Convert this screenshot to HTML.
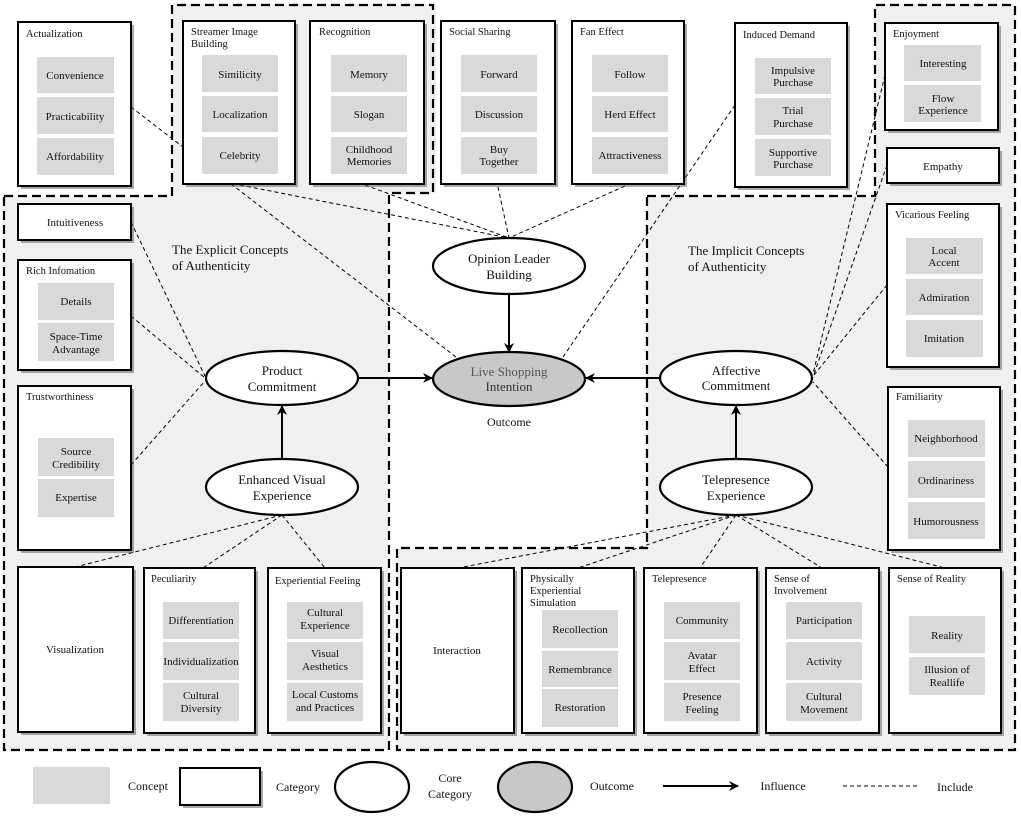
<!DOCTYPE html>
<html><head><meta charset="utf-8"><style>
html,body{margin:0;padding:0;background:#fff}
svg{display:block}
text{font-family:"Liberation Serif",serif;fill:#111}
.c{fill:#d9d9d9}
.b{fill:#fff;stroke:#000;stroke-width:2}
.s{fill:#555;opacity:.5}
.d{stroke:#000;stroke-width:1;stroke-dasharray:4,3;fill:none}
.D{stroke:#000;stroke-width:2.2;stroke-dasharray:9,5;fill:none}
.t{font-size:10.5px}
.m{font-size:11px;text-anchor:middle}
.e{font-size:13px;text-anchor:middle}
</style></head><body>
<svg width="1021" height="819" viewBox="0 0 1021 819" xmlns="http://www.w3.org/2000/svg">
<defs>
<marker id="a" markerWidth="10" markerHeight="10" refX="9" refY="5" orient="auto" markerUnits="userSpaceOnUse"><path d="M0,0 L10,5 L0,10 L3,5z" fill="#000"/></marker>
</defs>
<!-- gray regions -->
<path d="M3,196 H172 V4 H436 V193 H389 V750 H3Z" fill="#f0f0f0"/>
<path d="M647,196 H875 V4 H1015 V750 H397 V548 H647Z" fill="#f0f0f0"/>
<!-- dashed region borders -->
<path class="D" d="M4,196 H172 V5 H433 V193 H389 V750 H4Z"/>
<path class="D" d="M647,196 H875 V5 H1015 V750 H397 V548 H647Z"/>

<!-- dashed connectors -->
<g class="d">
<line x1="131" y1="107" x2="456" y2="357"/>
<line x1="240" y1="185" x2="509" y2="238"/>
<line x1="365" y1="185" x2="509" y2="238"/>
<line x1="498" y1="187" x2="509" y2="238"/>
<line x1="625" y1="186" x2="509" y2="238"/>
<line x1="735" y1="105" x2="563" y2="357"/>
<line x1="885" y1="75" x2="813" y2="374"/>
<line x1="887" y1="165" x2="814" y2="374"/>
<line x1="887" y1="285" x2="814" y2="375"/>
<line x1="888" y1="467" x2="813" y2="382"/>
<line x1="131" y1="222" x2="205" y2="376"/>
<line x1="131" y1="316" x2="205" y2="378"/>
<line x1="131" y1="465" x2="205" y2="381"/>
<line x1="282" y1="515" x2="75" y2="567"/>
<line x1="282" y1="515" x2="203" y2="568"/>
<line x1="282" y1="515" x2="325" y2="568"/>
<line x1="736" y1="515" x2="458" y2="568"/>
<line x1="736" y1="515" x2="578" y2="568"/>
<line x1="736" y1="515" x2="700" y2="568"/>
<line x1="736" y1="515" x2="822" y2="568"/>
<line x1="736" y1="515" x2="945" y2="568"/>
</g>

<!-- category boxes with shadows -->
<g>
<rect class="s" x="21" y="25" width="113" height="164"/><rect class="b" x="18" y="22" width="113" height="164"/>
<rect class="s" x="186" y="24" width="112" height="163"/><rect class="b" x="183" y="21" width="112" height="163"/>
<rect class="s" x="313" y="24" width="114" height="163"/><rect class="b" x="310" y="21" width="114" height="163"/>
<rect class="s" x="444" y="24" width="114" height="163"/><rect class="b" x="441" y="21" width="114" height="163"/>
<rect class="s" x="575" y="24" width="112" height="163"/><rect class="b" x="572" y="21" width="112" height="163"/>
<rect class="s" x="738" y="26" width="112" height="164"/><rect class="b" x="735" y="23" width="112" height="164"/>
<rect class="s" x="888" y="26" width="113" height="107"/><rect class="b" x="885" y="23" width="113" height="107"/>
<rect class="s" x="890" y="151" width="112" height="35"/><rect class="b" x="887" y="148" width="112" height="35"/>
<rect class="s" x="890" y="207" width="112" height="163"/><rect class="b" x="887" y="204" width="112" height="163"/>
<rect class="s" x="891" y="390" width="112" height="163"/><rect class="b" x="888" y="387" width="112" height="163"/>
<rect class="s" x="21" y="207" width="113" height="36"/><rect class="b" x="18" y="204" width="113" height="36"/>
<rect class="s" x="21" y="263" width="113" height="110"/><rect class="b" x="18" y="260" width="113" height="110"/>
<rect class="s" x="21" y="389" width="113" height="164"/><rect class="b" x="18" y="386" width="113" height="164"/>
<rect class="s" x="21" y="570" width="115" height="165"/><rect class="b" x="18" y="567" width="115" height="165"/>
<rect class="s" x="147" y="571" width="111" height="165"/><rect class="b" x="144" y="568" width="111" height="165"/>
<rect class="s" x="271" y="571" width="113" height="165"/><rect class="b" x="268" y="568" width="113" height="165"/>
<rect class="s" x="404" y="571" width="113" height="165"/><rect class="b" x="401" y="568" width="113" height="165"/>
<rect class="s" x="525" y="571" width="112" height="165"/><rect class="b" x="522" y="568" width="112" height="165"/>
<rect class="s" x="647" y="571" width="113" height="165"/><rect class="b" x="644" y="568" width="113" height="165"/>
<rect class="s" x="769" y="571" width="113" height="165"/><rect class="b" x="766" y="568" width="113" height="165"/>
<rect class="s" x="892" y="571" width="112" height="165"/><rect class="b" x="889" y="568" width="112" height="165"/>
</g>

<!-- concept boxes -->
<g class="c">
<rect x="37" y="57" width="77" height="36"/><rect x="37" y="97" width="77" height="37"/><rect x="37" y="138" width="77" height="37"/>
<rect x="202" y="55" width="76" height="37"/><rect x="202" y="96" width="76" height="36"/><rect x="202" y="137" width="76" height="37"/>
<rect x="331" y="55" width="76" height="37"/><rect x="331" y="96" width="76" height="36"/><rect x="331" y="137" width="76" height="37"/>
<rect x="461" y="55" width="76" height="37"/><rect x="461" y="96" width="76" height="36"/><rect x="461" y="137" width="76" height="37"/>
<rect x="592" y="55" width="76" height="37"/><rect x="592" y="96" width="76" height="36"/><rect x="592" y="137" width="76" height="37"/>
<rect x="755" y="58" width="76" height="36"/><rect x="755" y="98" width="76" height="37"/><rect x="755" y="139" width="76" height="37"/>
<rect x="904" y="45" width="77" height="36"/><rect x="904" y="85" width="77" height="37"/>
<rect x="906" y="238" width="77" height="36"/><rect x="906" y="279" width="77" height="36"/><rect x="906" y="320" width="77" height="37"/>
<rect x="908" y="420" width="77" height="37"/><rect x="908" y="461" width="77" height="37"/><rect x="908" y="502" width="77" height="37"/>
<rect x="38" y="283" width="76" height="37"/><rect x="38" y="323" width="76" height="38"/>
<rect x="38" y="438" width="76" height="38"/><rect x="38" y="479" width="76" height="38"/>
<rect x="163" y="602" width="76" height="37"/><rect x="163" y="642" width="76" height="38"/><rect x="163" y="683" width="76" height="38"/>
<rect x="287" y="602" width="76" height="37"/><rect x="287" y="642" width="76" height="38"/><rect x="287" y="683" width="76" height="38"/>
<rect x="542" y="610" width="76" height="38"/><rect x="542" y="651" width="76" height="36"/><rect x="542" y="689" width="76" height="38"/>
<rect x="664" y="602" width="76" height="37"/><rect x="664" y="642" width="76" height="38"/><rect x="664" y="683" width="76" height="38"/>
<rect x="786" y="602" width="76" height="37"/><rect x="786" y="642" width="76" height="38"/><rect x="786" y="683" width="76" height="38"/>
<rect x="909" y="616" width="76" height="37"/><rect x="909" y="657" width="76" height="38"/>
</g>

<!-- category titles -->
<g class="t">
<text x="26" y="37">Actualization</text>
<text x="191" y="35">Streamer Image</text><text x="191" y="47">Building</text>
<text x="319" y="35">Recognition</text>
<text x="449" y="35">Social Sharing</text>
<text x="580" y="35">Fan Effect</text>
<text x="743" y="38">Induced Demand</text>
<text x="893" y="37">Enjoyment</text>
<text x="895" y="218">Vicarious Feeling</text>
<text x="896" y="400">Familiarity</text>
<text x="26" y="274">Rich Infomation</text>
<text x="26" y="400">Trustworthiness</text>
<text x="151" y="582">Peculiarity</text>
<text x="275" y="584">Experiential Feeling</text>
<text x="530" y="582">Physically</text><text x="530" y="594">Experiential</text><text x="530" y="606">Simulation</text>
<text x="652" y="582">Telepresence</text>
<text x="774" y="582">Sense of</text><text x="774" y="594">Involvement</text>
<text x="897" y="582">Sense of Reality</text>
</g>
<g class="m">
<text x="75" y="226">Intuitiveness</text>
<text x="943" y="170">Empathy</text>
<text x="75" y="653">Visualization</text>
<text x="457" y="654">Interaction</text>
<!-- concepts -->
<text x="75" y="79">Convenience</text><text x="75" y="120">Practicability</text><text x="75" y="160">Affordability</text>
<text x="240" y="78">Similicity</text><text x="240" y="118">Localization</text><text x="240" y="159">Celebrity</text>
<text x="369" y="78">Memory</text><text x="369" y="118">Slogan</text><text x="369" y="153">Childhood</text><text x="369" y="165">Memories</text>
<text x="499" y="78">Forward</text><text x="499" y="118">Discussion</text><text x="499" y="153">Buy</text><text x="499" y="165">Together</text>
<text x="630" y="78">Follow</text><text x="630" y="118">Herd Effect</text><text x="630" y="159">Attractiveness</text>
<text x="793" y="74">Impulsive</text><text x="793" y="86">Purchase</text>
<text x="793" y="114">Trial</text><text x="793" y="127">Purchase</text>
<text x="793" y="156">Supportive</text><text x="793" y="168">Purchase</text>
<text x="943" y="67">Interesting</text><text x="943" y="102">Flow</text><text x="943" y="114">Experience</text>
<text x="944" y="254">Local</text><text x="944" y="266">Accent</text>
<text x="944" y="301">Admiration</text><text x="944" y="342">Imitation</text>
<text x="946" y="442">Neighborhood</text><text x="946" y="484">Ordinariness</text><text x="946" y="525">Humorousness</text>
<text x="76" y="305">Details</text><text x="76" y="340">Space-Time</text><text x="76" y="353">Advantage</text>
<text x="76" y="455">Source</text><text x="76" y="468">Credibility</text><text x="76" y="501">Expertise</text>
<text x="201" y="624">Differentiation</text><text x="201" y="665">Individualization</text><text x="201" y="699">Cultural</text><text x="201" y="712">Diversity</text>
<text x="325" y="616">Cultural</text><text x="325" y="629">Experience</text><text x="325" y="657">Visual</text><text x="325" y="670">Aesthetics</text><text x="325" y="698">Local Customs</text><text x="325" y="711">and Practices</text>
<text x="580" y="633">Recollection</text><text x="580" y="673">Remembrance</text><text x="580" y="711">Restoration</text>
<text x="702" y="624">Community</text><text x="702" y="659">Avatar</text><text x="702" y="672">Effect</text><text x="702" y="700">Presence</text><text x="702" y="713">Feeling</text>
<text x="824" y="624">Participation</text><text x="824" y="665">Activity</text><text x="824" y="700">Cultural</text><text x="824" y="713">Movement</text>
<text x="947" y="639">Reality</text><text x="947" y="673">Illusion of</text><text x="947" y="686">Reallife</text>
</g>

<!-- region titles -->
<text x="172" y="254" style="font-size:13px">The Explicit  Concepts</text>
<text x="172" y="270" style="font-size:13px">of Authenticity</text>
<text x="688" y="255" style="font-size:13px">The Implicit  Concepts</text>
<text x="688" y="271" style="font-size:13px">of Authenticity</text>

<!-- arrows -->
<g stroke="#000" stroke-width="2" fill="none" marker-end="url(#a)">
<line x1="358" y1="378" x2="432" y2="378"/>
<line x1="660" y1="378" x2="586" y2="378"/>
<line x1="509" y1="294" x2="509" y2="352"/>
<line x1="282" y1="459" x2="282" y2="406"/>
<line x1="736" y1="459" x2="736" y2="406"/>
</g>

<!-- ellipses -->
<g stroke="#000" stroke-width="2.2">
<ellipse cx="509" cy="266" rx="76" ry="28" fill="#fff"/>
<ellipse cx="509" cy="379" rx="76" ry="27" fill="#c8c8c8"/>
<ellipse cx="282" cy="378" rx="76" ry="27" fill="#fff"/>
<ellipse cx="736" cy="378" rx="76" ry="27" fill="#fff"/>
<ellipse cx="282" cy="487" rx="76" ry="28" fill="#fff"/>
<ellipse cx="736" cy="487" rx="76" ry="28" fill="#fff"/>
</g>
<g class="e">
<text x="509" y="263">Opinion Leader</text><text x="509" y="279">Building</text>
<text x="509" y="376" style="fill:#555">Live Shopping</text><text x="509" y="391" style="fill:#333">Intention</text>
<text x="282" y="375">Product</text><text x="282" y="391">Commitment</text>
<text x="736" y="375">Affective</text><text x="736" y="390">Commitment</text>
<text x="282" y="484">Enhanced Visual</text><text x="282" y="500">Experience</text>
<text x="736" y="484">Telepresence</text><text x="736" y="500">Experience</text>
<text x="509" y="426" style="font-size:12px">Outcome</text>
</g>

<!-- legend -->
<rect class="c" x="33" y="767" width="77" height="37"/>
<text x="148" y="790" class="e" style="font-size:12px">Concept</text>
<rect class="s" x="183" y="771" width="80" height="37"/><rect class="b" x="180" y="768" width="80" height="37"/>
<text x="298" y="791" class="e" style="font-size:12px">Category</text>
<ellipse cx="372" cy="787" rx="37" ry="25" fill="#fff" stroke="#000" stroke-width="2.2"/>
<text x="450" y="782" class="e" style="font-size:12px">Core</text><text x="450" y="798" class="e" style="font-size:12px">Category</text>
<ellipse cx="535" cy="787" rx="37" ry="25" fill="#c8c8c8" stroke="#000" stroke-width="2.2"/>
<text x="612" y="790" class="e" style="font-size:12px">Outcome</text>
<line x1="663" y1="786" x2="738" y2="786" stroke="#000" stroke-width="2" marker-end="url(#a)"/>
<text x="783" y="790" class="e" style="font-size:12px">Influence</text>
<line x1="843" y1="786" x2="920" y2="786" class="d"/>
<text x="955" y="791" class="e" style="font-size:12px">Include</text>
</svg>
</body></html>
